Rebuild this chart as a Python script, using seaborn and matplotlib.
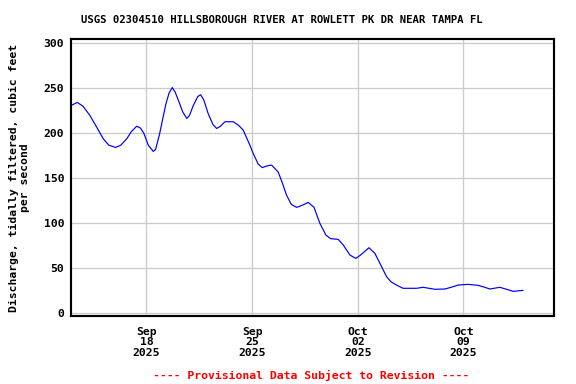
import numpy as np
import pandas as pd
import seaborn as sns
import matplotlib.pyplot as plt
import matplotlib.dates as mdates

# discharge, days after 2025-09-13 00:00
days = [0.0, 0.42, 0.81, 1.25, 1.7, 2.14, 2.5, 2.96, 3.3, 3.69, 4.0, 4.35, 4.6, 4.83,
        5.12, 5.45, 5.6, 5.85, 6.29, 6.5, 6.71, 6.9, 7.11, 7.4, 7.67, 7.85, 8.1, 8.4,
        8.59, 8.8, 9.09, 9.4, 9.65, 9.9, 10.2, 10.75, 11.1, 11.41, 11.85, 12.07, 12.4,
        12.67, 13.0, 13.29, 13.62, 13.73, 14.0, 14.28, 14.6, 14.95, 15.3, 15.72, 16.1,
        16.49, 16.89, 17.2, 17.7, 18.04, 18.48, 18.87, 19.2, 19.74, 20.13, 20.58, 20.91,
        21.2, 21.57, 22.0, 22.89, 23.33, 24.11, 24.77, 25.2, 25.65, 26.31, 26.97, 27.4,
        27.75, 28.41, 28.8, 29.29, 29.95]
discharge = [231, 234.5, 230, 220, 207, 194, 187, 184.4, 187, 194, 202, 208, 206, 200,
             187, 180, 182, 198, 233, 245, 251, 246, 237, 224, 216.7, 220, 231, 241,
             243, 237, 222, 210, 205.5, 208, 213, 213, 209, 203.7, 187, 177.8, 166,
             162, 164, 164.8, 159, 157, 145, 131.4, 121, 117.8, 120, 123.3, 117.8,
             100, 87, 83, 82.2, 75.9, 64.8, 61, 65, 72.9, 66.7, 51.8, 40.7,
             35, 31.4, 27.8, 27.8, 28.9, 26.7, 27, 29, 31.4, 32.2, 31.1, 29,
             27, 28.9, 27, 24.4, 25.5]
yticks = [0, 50, 100, 150, 200, 250, 300]
xticks = ["2025-09-18", "2025-09-25", "2025-10-02", "2025-10-09"]

start = pd.Timestamp("2025-09-13")
df = pd.DataFrame({"time": start + pd.to_timedelta(days, unit="D"),
                   "q": discharge})

sns.set_style("white")
plt.rcParams["font.family"] = ["DejaVu Sans Mono"]
plt.rcParams["font.weight"] = "bold"
for k in ["text.color", "axes.labelcolor", "xtick.color", "ytick.color"]:
    plt.rcParams[k] = "black"

fig = plt.figure(figsize=(6, 4), dpi=96)
ax = fig.add_axes([71/576, 1-316/384, (554-71)/576, (316-39)/384])
sns.lineplot(data=df, x="time", y="q", ax=ax, color="#0000ff", linewidth=0.9)

ax.set_xlim(start, pd.Timestamp("2025-10-15"))
ax.set_ylim(-3, 305)
ax.set_yticks(yticks)
ax.set_xticks(pd.to_datetime(xticks))
ax.xaxis.set_major_formatter(mdates.DateFormatter("%b\n%d\n%Y"))
ax.grid(True, color="#cccccc", linewidth=1)
for s in ax.spines.values():
    s.set_color("black")
    s.set_linewidth(1.6)
ax.tick_params(length=0, labelsize=8.5)
ax.tick_params(axis="y", pad=5)
ax.tick_params(axis="x", pad=8)
for lab in ax.get_xticklabels():
    lab.set_linespacing(1.1)
    lab.set_fontweight("bold")
for lab in ax.get_yticklabels():
    lab.set_fontweight("bold")
ax.set_xlabel("")
ax.set_ylabel("Discharge, tidally filtered, cubic feet\nper second",
              fontsize=8.5, fontweight="bold", linespacing=1.2, labelpad=10)

fig.text(0.49, 0.948, "USGS 02304510 HILLSBOROUGH RIVER AT ROWLETT PK DR NEAR TAMPA FL",
         ha="center", va="center", fontsize=8, fontweight="bold")
fig.text(0.54, 0.023, "---- Provisional Data Subject to Revision ----",
         ha="center", va="center", fontsize=8.6, fontweight="bold", color="red")

plt.savefig("out.png", dpi=96)
